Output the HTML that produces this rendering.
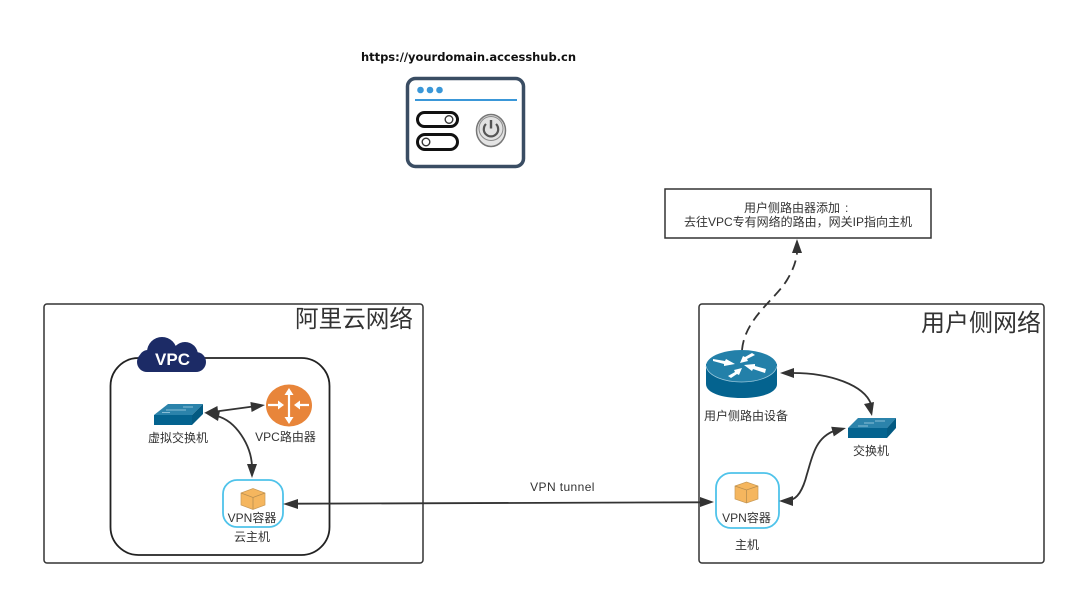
<!DOCTYPE html>
<html>
<head>
<meta charset="utf-8">
<style>
html,body{margin:0;padding:0;background:#fff;width:1080px;height:594px;overflow:hidden}
svg{display:block;filter:blur(0.35px)}
text{font-family:"Liberation Sans","WenQuanYi Zen Hei","Noto Sans CJK SC",sans-serif;fill:#333}
</style>
</head>
<body>
<svg width="1080" height="594" viewBox="0 0 1080 594" xmlns="http://www.w3.org/2000/svg">
<rect width="1080" height="594" fill="#fff"/>

<!-- URL -->
<text x="361" y="61" font-size="11.500" font-weight="bold" style="font-family:'DejaVu Sans',sans-serif;fill:#111" textLength="215" lengthAdjust="spacing">https://yourdomain.accesshub.cn</text>

<!-- Browser icon -->
<rect x="407.500" y="78.500" width="116" height="88" rx="8" fill="#fff" stroke="#3a4d63" stroke-width="3.500"/>
<circle cx="420.500" cy="90" r="3.300" fill="#3a97d8"/>
<circle cx="430" cy="90" r="3.300" fill="#3a97d8"/>
<circle cx="439.500" cy="90" r="3.300" fill="#3a97d8"/>
<rect x="415" y="99" width="102" height="2" fill="#3a97d8"/>
<rect x="417.500" y="112.500" width="40" height="14" rx="7" fill="#fff" stroke="#111" stroke-width="3"/>
<circle cx="449" cy="119.500" r="3.800" fill="#fff" stroke="#333" stroke-width="1.400"/>
<rect x="417.500" y="134.500" width="40" height="15" rx="7.500" fill="#fff" stroke="#111" stroke-width="3"/>
<circle cx="426" cy="142" r="3.800" fill="#fff" stroke="#333" stroke-width="1.400"/>
<ellipse cx="491" cy="130.500" rx="14.500" ry="16" fill="#e4e4e4" stroke="#777" stroke-width="1.500"/>
<circle cx="491" cy="128.500" r="12" fill="#e2e2e2" stroke="#8a8a8a" stroke-width="1"/>
<path d="M486 124a7.200 7.200 0 1 0 10 0" fill="none" stroke="#555" stroke-width="2.200"/>
<path d="M491 120v8.500" fill="none" stroke="#555" stroke-width="2.400"/>

<!-- Note box -->
<rect x="665" y="189" width="266" height="49" fill="#fff" stroke="#333" stroke-width="1.500"/>
<text x="744" y="212" font-size="12" fill="#444">用户侧路由器添加</text>
<text x="845" y="212" font-size="12" fill="#444">:</text>
<text x="798" y="226" text-anchor="middle" font-size="12" fill="#444">去往VPC专有网络的路由，网关IP指向主机</text>

<!-- Network boxes -->
<rect x="44" y="304" width="379" height="259" rx="3" fill="#fff" stroke="#333" stroke-width="1.500"/>
<rect x="699" y="304" width="345" height="259" rx="3" fill="#fff" stroke="#333" stroke-width="1.500"/>
<text x="354" y="327" text-anchor="middle" font-size="23.600" fill="#333">阿里云网络</text>
<text x="981" y="331" text-anchor="middle" font-size="24" fill="#333">用户侧网络</text>

<!-- VPC box -->
<rect x="110.500" y="358" width="219" height="197" rx="28" fill="#fff" stroke="#222" stroke-width="1.800"/>
<g fill="#1c2b66">
<rect x="137" y="352" width="69" height="20" rx="10"/>
<circle cx="162" cy="352" r="15"/>
<circle cx="185" cy="355" r="13"/>
<circle cx="148" cy="359" r="9"/>
</g>
<text x="172.500" y="365" text-anchor="middle" font-size="17" font-weight="bold" style="fill:#fff">VPC</text>

<!-- Virtual switch -->
<path d="M154 415l14-11h35l-11 11z" fill="#2b83ab"/>
<path d="M154 415h38v10h-38z" fill="#04638f"/>
<path d="M192 415l11-11v10l-11 11z" fill="#035a82"/>
<path d="M166 410h12M170 412.500h-8M183 407h10M178 410h8" stroke="#a8d4e6" stroke-width="0.700" fill="none"/>
<text x="178" y="442" text-anchor="middle" font-size="12" fill="#444">虚拟交换机</text>

<!-- VPC router -->
<ellipse cx="289" cy="405.500" rx="23" ry="21" fill="#e8853a"/>
<g fill="none" stroke="#fff" stroke-width="2.200">
<path d="M289 393v25"/>
<path d="M268 405h10M309 405h-10"/>
</g>
<g fill="#fff">
<path d="M289 388l-4.500 7h9z"/>
<path d="M289 424l-4.500-7h9z"/>
<path d="M284 405l-6-4.500v9z"/>
<path d="M294 405l6-4.500v9z"/>
</g>
<text x="285.500" y="441" text-anchor="middle" font-size="12" fill="#444">VPC路由器</text>

<!-- Cloud container -->
<rect x="223" y="480" width="60" height="47" rx="14" fill="#fff" stroke="#4fc3ea" stroke-width="1.800"/>
<path d="M241 493l12-4.500 12 4.500v12l-12 4.500-12-4.500z" fill="#f5b65e" stroke="#c99a56" stroke-width="0.700"/>
<path d="M241 493l12 4.500 12-4.500M253 497.500v12" fill="none" stroke="#b88e50" stroke-width="0.800"/>
<text x="252" y="522" text-anchor="middle" font-size="12" fill="#444">VPN容器</text>
<text x="252" y="541" text-anchor="middle" font-size="12" fill="#444">云主机</text>

<!-- Router -->
<path d="M706 364v20c0 9 16 14 35.500 14s35.500-5 35.500-14v-20z" fill="#04638f"/>
<ellipse cx="741.500" cy="366" rx="35.500" ry="16" fill="#2380a9"/>
<path d="M706 366c2 10 18 16 35.500 16s33.500-6 35.500-16" fill="none" stroke="#9cc8dc" stroke-width="0.700"/>
<g fill="#fff">
<path d="M713 359l12 2 1-2 9 5-11 2 0-2-11-3z"/>
<path d="M765 373l-12-4-1 2-8-6 11-1v2l11 3z"/>
<path d="M728 376l7-4-1-2 8-2-3 7-2-1-6 4z"/>
<path d="M755 355l-8 4 1 2-8 2 3-7 2 1 7-4z"/>
</g>
<text x="746" y="420" text-anchor="middle" font-size="12" fill="#444">用户侧路由设备</text>

<!-- Right switch -->
<path d="M848 428l10-10h38l-9 10z" fill="#2b83ab"/>
<path d="M848 428h39v10h-39z" fill="#04638f"/>
<path d="M887 428l9-10v10l-9 10z" fill="#035a82"/>
<path d="M858 426h10M864 423h10M875 421h10" stroke="#a8d4e6" stroke-width="0.700" fill="none"/>
<text x="871" y="455" text-anchor="middle" font-size="12" fill="#444">交换机</text>

<!-- Host container -->
<rect x="716" y="473" width="63" height="55" rx="15" fill="#fff" stroke="#4fc3ea" stroke-width="1.800"/>
<path d="M735 486l11.500-4 11.500 4v13l-11.500 4-11.500-4z" fill="#f5b65e" stroke="#c99a56" stroke-width="0.700"/>
<path d="M735 486l11.500 4 11.500-4M746.500 490v13" fill="none" stroke="#b88e50" stroke-width="0.800"/>
<text x="746.500" y="522" text-anchor="middle" font-size="12" fill="#444">VPN容器</text>
<text x="747" y="549" text-anchor="middle" font-size="12" fill="#444">主机</text>

<!-- Connectors -->
<g fill="none" stroke="#333" stroke-width="1.800">
<path d="M216 411.500L253 406.500"/>
<path d="M217 416C236 421 251 445 252 466"/>
<path d="M297 503.700L701 502.300"/>
<path d="M793 373C830 373 864 385 871 404"/>
<path d="M834 431C815 438 812 458 807 474C803 490 797 499 790 500"/>
<path d="M742 350C745 318 775 300 787 280C793 270 796 262 797 253" stroke-dasharray="10 6"/>
</g>
<g fill="#333">
<path d="M204 413L218.600 416L217.400 406z"/>
<path d="M265 405L250.400 402L251.600 412z"/>
<path d="M205 413L220 411L218 421z"/>
<path d="M252 478L247 464L257 464z"/>
<path d="M283 504L298 499L298 509z"/>
<path d="M714 502L700 497L700 507z"/>
<path d="M780 373L794 368L794 378z"/>
<path d="M872 416L864 404L874 402z"/>
<path d="M846 428L833.800 436.400L831.200 426.800z"/>
<path d="M779 501L793 496L793 506z"/>
<path d="M797 239L792 253L802 253z"/>
</g>

<text x="562.500" y="491" text-anchor="middle" font-size="12" fill="#333" letter-spacing="0.400">VPN tunnel</text>
</svg>
</body>
</html>
